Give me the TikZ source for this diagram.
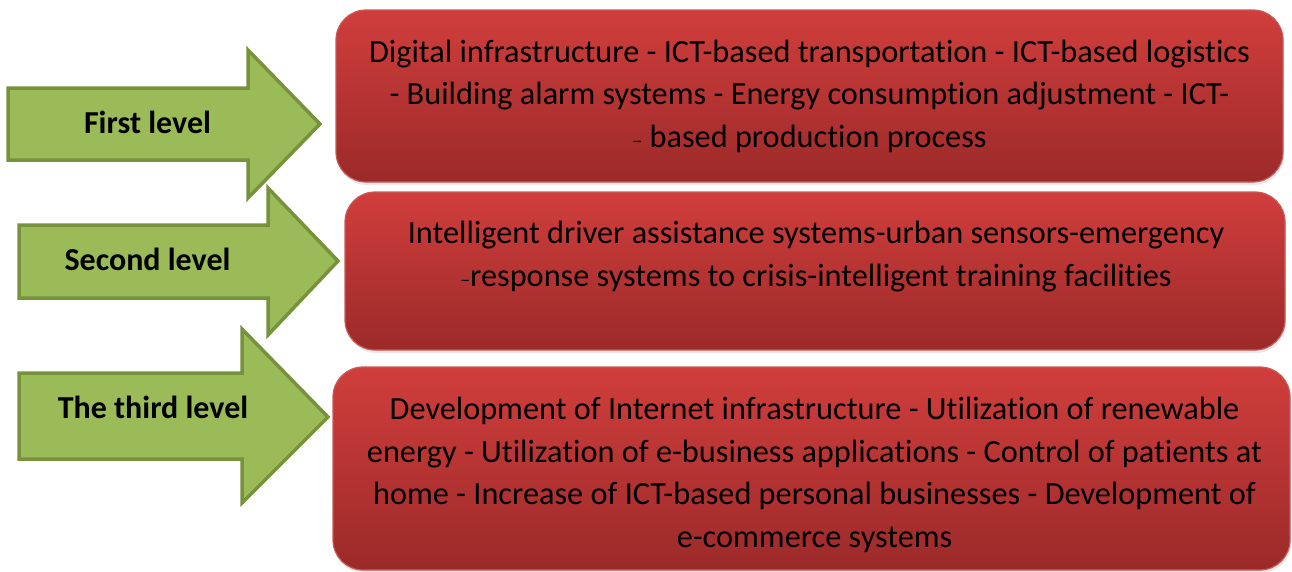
\documentclass[tikz,border=0pt]{standalone}
\usepackage{fontspec}
\setmainfont{Carlito}[Ligatures=NoCommon]
\usetikzlibrary{shadows}
\definecolor{arrowfill}{RGB}{155,187,89}
\definecolor{arrowline}{RGB}{118,146,60}
\definecolor{boxtop}{RGB}{208,62,60}
\definecolor{boxbottom}{RGB}{155,42,41}
\definecolor{boxline}{RGB}{200,90,88}
\begin{document}
\begin{tikzpicture}[x=1pt, y=-1pt,
    levelarrow/.style={draw=arrowline, fill=arrowfill, line width=3.5pt, line join=miter},
    levellabel/.style={font=\fontsize{32}{32}\selectfont\bfseries, anchor=base, inner sep=0pt},
    levelbox/.style={rectangle, rounded corners=30pt, draw=boxline, line width=1.2pt,
      top color=boxtop, bottom color=boxbottom, inner sep=0pt,
      drop shadow={opacity=0.18, shadow xshift=1pt, shadow yshift=-3pt}},
    boxtext/.style={align=center, inner sep=0pt, font=\fontsize{32.3}{42.5}\selectfont}]
      \useasboundingbox (0, 0) rectangle (1292, 571);

      \node [levelbox, minimum width=947pt, minimum height=172pt] (b1) at (809.5, 96) {};
      \node [levelbox, minimum width=940pt, minimum height=158pt] (b2) at (815, 271) {};
      \node [levelbox, minimum width=957pt, minimum height=203pt] (b3) at (811.5, 468.5) {};

      \node [boxtext] (t1) at (809.5, 96) {Digital infrastructure - ICT-based transportation - ICT-based logistics\\
        - Building alarm systems - Energy consumption adjustment - ICT-\\
        {\fontsize{20}{20}\selectfont –} based production process};
      \node [boxtext] (t2) at (816, 256.5) {Intelligent driver assistance systems-urban sensors-emergency\\
        {\fontsize{20}{20}\selectfont –}response systems to crisis-intelligent training facilities};
      \node [boxtext] (t3) at (814.5, 475) {Development of Internet infrastructure - Utilization of renewable\\
        energy - Utilization of e-business applications - Control of patients at\\
        home - Increase of ICT-based personal businesses - Development of\\
        e-commerce systems};

      \draw [levelarrow] (8, 88) -- (248, 88) -- (248, 50) -- (320, 124) -- (248, 198) -- (248, 160) -- (8, 160) -- cycle;
      \draw [levelarrow] (19, 225) -- (268, 225) -- (268, 188) -- (338, 261) -- (268, 335) -- (268, 298) -- (19, 298) -- cycle;
      \draw [levelarrow] (19, 373) -- (242, 373) -- (242, 329) -- (328, 417) -- (242, 503) -- (242, 459) -- (19, 459) -- cycle;

      \node [levellabel] (l1) at (147.5, 133) {First level};
      \node [levellabel] (l2) at (147.5, 270) {Second level};
      \node [levellabel] (l3) at (153, 418) {The third level};
    \end{tikzpicture}
\end{document}
